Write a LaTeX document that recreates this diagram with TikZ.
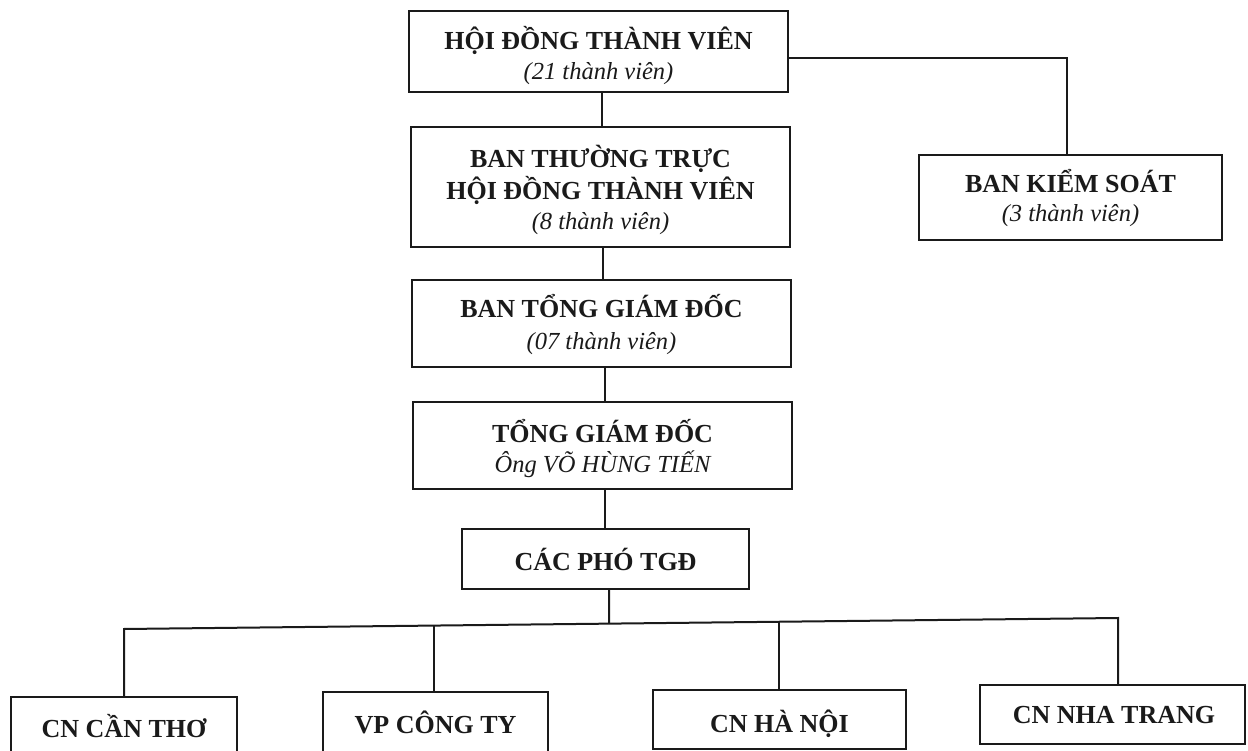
\documentclass[tikz,border=0pt]{standalone}
\usepackage{fontspec}
\setmainfont{Liberation Serif}
\usetikzlibrary{calc}
\definecolor{ink}{HTML}{1A1A1A}
\begin{document}
\begin{tikzpicture}[x=1pt,y=-1pt,
  box/.style={draw=ink, line width=2.3pt, inner sep=0pt, fill=none},
  ttl/.style={anchor=base, inner sep=0pt, text=ink, font=\fontsize{26}{31}\selectfont\bfseries},
  sub/.style={anchor=base, inner sep=0pt, text=ink, font=\fontsize{24.5}{29}\selectfont\itshape},
  conn/.style={draw=ink, line width=2pt}]
\useasboundingbox (0,0) rectangle (1248,751);
\clip (0,0) rectangle (1248,751);
\fill[white] (0,0) rectangle (1248,751);

% boxes
\node[box, minimum width=379, minimum height=81] (hdtv) at (598.5,51.5) {};
\node[box, minimum width=379, minimum height=120] (btt) at (600.5,187) {};
\node[box, minimum width=379, minimum height=87] (btgd) at (601.5,323.5) {};
\node[box, minimum width=379, minimum height=87] (tgd) at (602.5,445.5) {};
\node[box, minimum width=287, minimum height=60] (cacpho) at (605.5,559) {};
\node[box, minimum width=303, minimum height=85] (bks) at (1070.5,197.5) {};
\node[box, minimum width=226, minimum height=60] (ct) at (124,727) {};
\node[box, minimum width=225, minimum height=60] (vp) at (435.5,722) {};
\node[box, minimum width=253, minimum height=59] (hn) at (779.5,719.5) {};
\node[box, minimum width=265, minimum height=59] (nt) at (1112.5,714.5) {};

% texts
\node[ttl] (hdtv-a) at (598.5,50) {HỘI ĐỒNG THÀNH VIÊN};
\node[sub] (hdtv-b) at (598.5,80) {(21 thành viên)};
\node[ttl] (btt-a) at (600.5,168) {BAN THƯỜNG TRỰC};
\node[ttl] (btt-b) at (600.5,200) {HỘI ĐỒNG THÀNH VIÊN};
\node[sub] (btt-c) at (600.5,230) {(8 thành viên)};
\node[ttl] (btgd-a) at (601.5,318) {BAN TỔNG GIÁM ĐỐC};
\node[sub] (btgd-b) at (601.5,349) {(07 thành viên)};
\node[ttl] (tgd-a) at (602.5,442) {TỔNG GIÁM ĐỐC};
\node[sub] (tgd-b) at (602.5,472) {Ông VÕ HÙNG TIẾN};
\node[ttl] (cacpho-a) at (605.5,570) {CÁC PHÓ TGĐ};
\node[ttl] (bks-a) at (1070.5,193) {BAN KIỂM SOÁT};
\node[sub] (bks-b) at (1070.5,222) {(3 thành viên)};
\node[ttl] (ct-a) at (124,737) {CN CẦN THƠ};
\node[ttl] (vp-a) at (435.5,733) {VP CÔNG TY};
\node[ttl] (hn-a) at (779.5,732) {CN HÀ NỘI};
\node[ttl] (nt-a) at (1114,723) {CN NHA TRANG};

% vertical chain
\draw[conn] ([xshift=3.5]hdtv.south) -- ([xshift=3.5]hdtv.south |- btt.north);
\draw[conn] ([xshift=2.5]btt.south) -- ([xshift=2.5]btt.south |- btgd.north);
\draw[conn] ([xshift=3.5]btgd.south) -- ([xshift=3.5]btgd.south |- tgd.north);
\draw[conn] ([xshift=2.5]tgd.south) -- ([xshift=2.5]tgd.south |- cacpho.north);

% to supervisory board
\draw[conn] ([yshift=-6.5]hdtv.east) -| ([xshift=-3.5]bks.north);

% bus
\coordinate (busl) at (124,629);
\coordinate (busr) at (1118,618);
\coordinate (bc) at ($(busl)!0.488!(busr)$);
\coordinate (b2) at ($(busl)!0.312!(busr)$);
\coordinate (b3) at ($(busl)!0.659!(busr)$);
\draw[conn] ([xshift=3.5]cacpho.south) -- (bc);
\draw[conn] (ct.north) -- (busl) -- (busr) -- (busr |- nt.north);
\draw[conn] (b2) -- (b2 |- vp.north);
\draw[conn] (b3) -- (b3 |- hn.north);
\end{tikzpicture}
\end{document}
